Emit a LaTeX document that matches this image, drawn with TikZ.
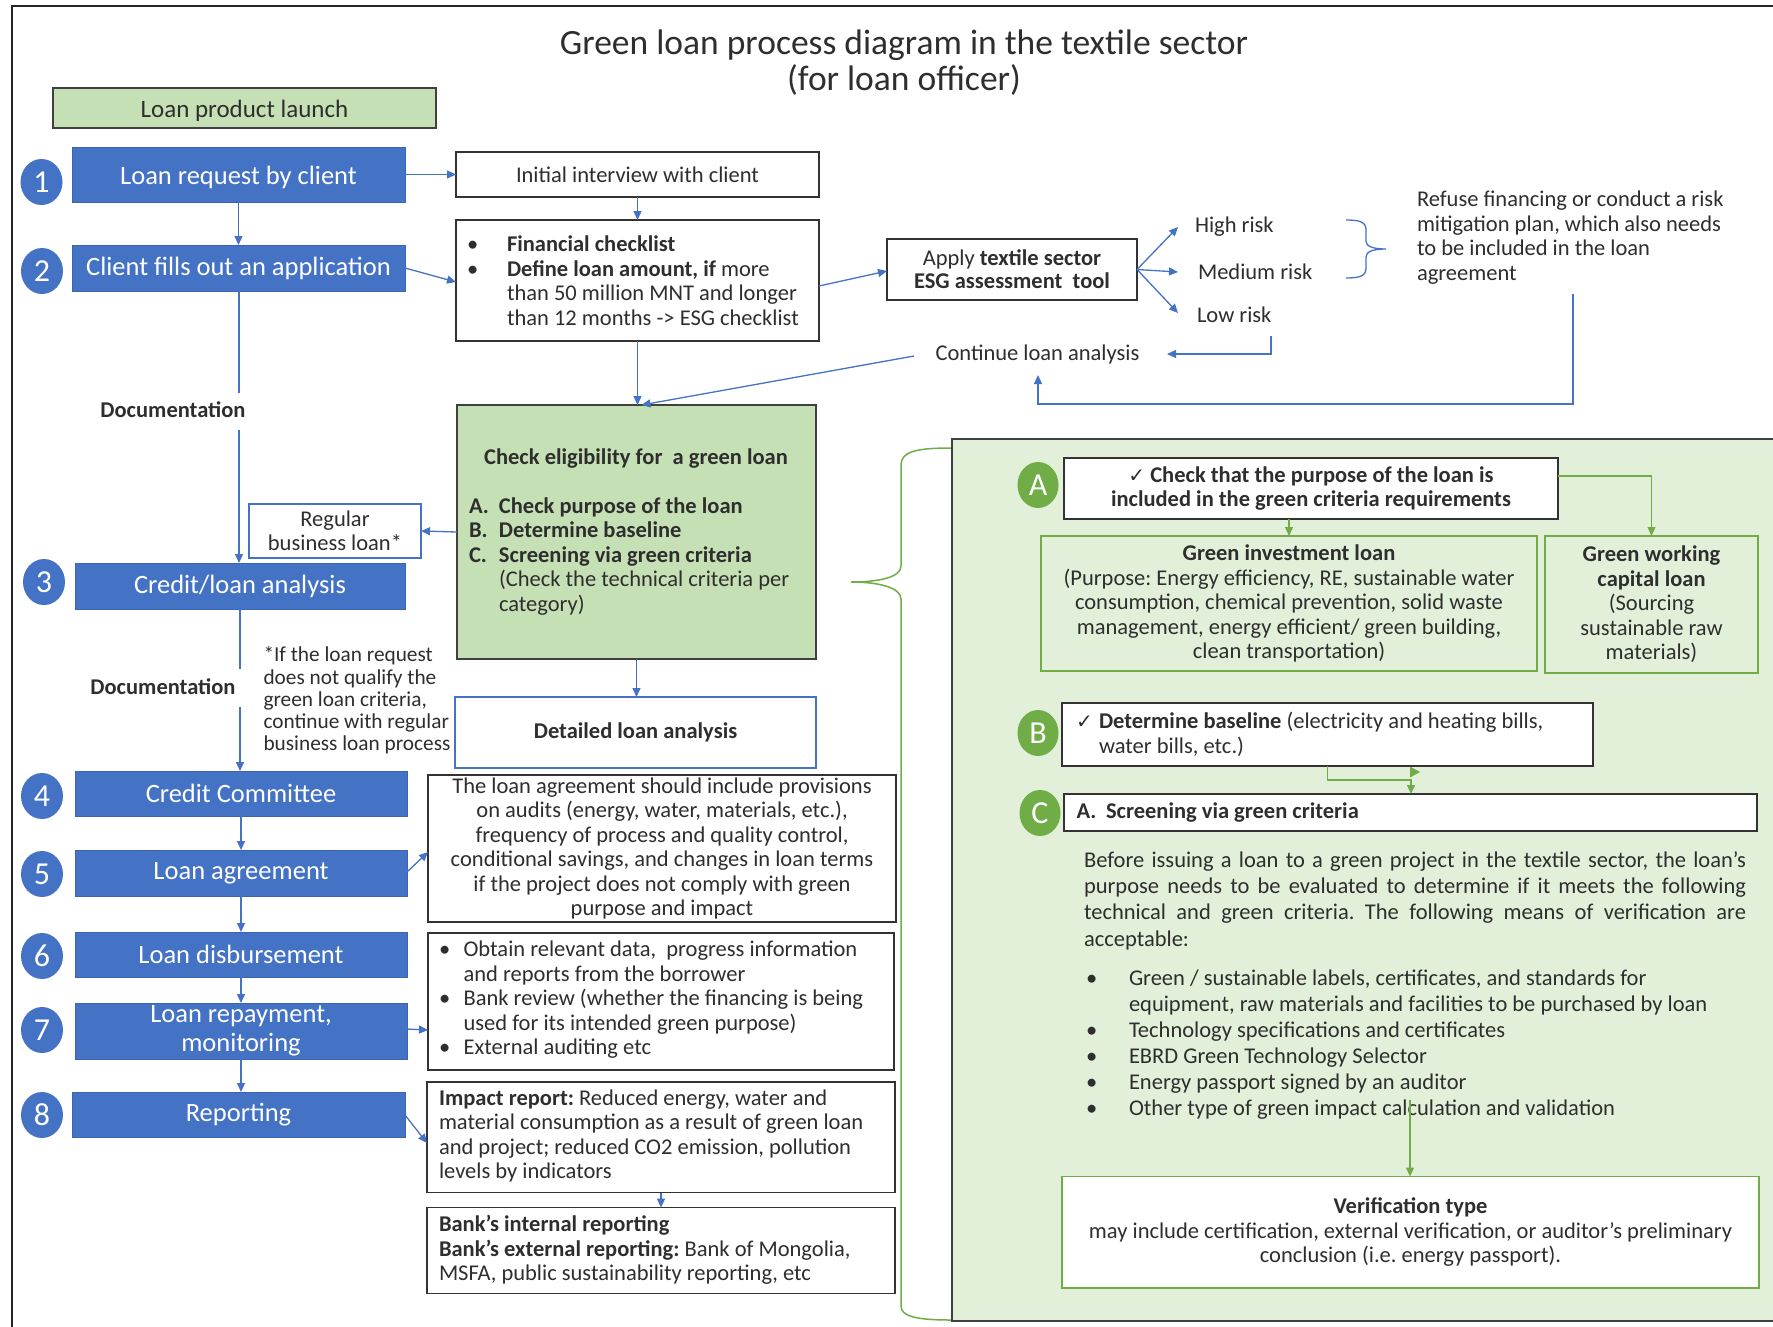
\documentclass[tikz,border=0pt]{standalone}
\usepackage{fontspec}
\setmainfont{Carlito}
\newfontfamily\dejavu{DejaVu Sans}
\usetikzlibrary{arrows.meta,shapes.geometric}
\definecolor{myblue}{HTML}{4472C4}
\definecolor{blueedge}{HTML}{3B65B3}
\definecolor{lgreen}{HTML}{C5E0B4}
\definecolor{pgreen}{HTML}{E2F0D9}
\definecolor{mgreen}{HTML}{70AD47}
\definecolor{txtc}{HTML}{2E2E2E}
\newcommand\myfs[2]{\fontsize{#1}{#2}\selectfont}
\newcommand\ck{{\dejavu\myfs{20}{22}\char"2713}}
\newcommand\bul[1]{\makebox[#1][l]{\hspace*{-5pt}\textbullet}}
\frenchspacing
\begin{document}
\begin{tikzpicture}[x=1pt,y=-1pt,
  every node/.style={inner sep=0pt, outer sep=0pt, text=txtc, font=\myfs{22.5}{24.5}},
  sz/.style 2 args={minimum width=#1pt, minimum height=#2pt},
  bf/.style={font=\myfs{22.5}{24.5}\bfseries},
  bluebox/.style={draw=blueedge, fill=myblue, line width=1pt, text=white, font=\myfs{26.5}{29}, align=center},
  numc/.style={ellipse, fill=myblue, minimum width=42pt, minimum height=46pt, text=white, font=\myfs{32}{32}},
  letc/.style={ellipse, fill=mgreen, minimum width=41pt, minimum height=46pt, text=white, font=\myfs{32}{32}},
  wbox/.style={draw=black!80, fill=white, line width=1.3pt},
  bbox/.style={draw=myblue, fill=white, line width=1.3pt},
  gbox/.style={draw=mgreen, line width=1.3pt},
  barrow/.style={draw=myblue, line width=1.3pt, -{Triangle[length=9pt,width=8pt]}},
  bline/.style={draw=myblue, line width=1.3pt},
  garrow/.style={draw=mgreen, line width=1.3pt, -{Triangle[length=9pt,width=8pt]}},
]
\useasboundingbox (0,0) rectangle (1773,1326);
\fill[white] (0,0) rectangle (1773,1326);
% outer frame
\draw[line width=1.6pt, black!85] (12,1340) -- (12,6) -- (1790,6);

% title
\node[font=\myfs{35.5}{38}] (title) at (904,45) {Green loan process diagram in the textile sector};
\node[font=\myfs{35.5}{38}] (subtitle) at (904,80) {(for loan officer)};

% launch
\node[draw=black!75, fill=lgreen, line width=1.3pt, sz={383}{40}, font=\myfs{25}{27}, text height=23pt, text depth=5pt] (launch) at (244.5,108) {Loan product launch};

% blue steps
\node[bluebox, sz={333}{55}, text height=25pt, text depth=5.5pt] (b1) at (238.5,174.5) {Loan request by client};
\node[bluebox, sz={333}{46}] (b2) at (238.5,268) {Client fills out an application};
\node[bluebox, sz={330}{46}] (b3) at (240,586) {Credit/loan analysis};
\node[bluebox, sz={332}{45}] (b4) at (241,793.5) {Credit Committee};
\node[bluebox, sz={332}{46}] (b5) at (241,873) {Loan agreement};
\node[bluebox, sz={332}{45}] (b6) at (241,954.5) {Loan disbursement};
\node[bluebox, sz={332}{56}] (b7) at (241,1031) {Loan repayment,\\monitoring};
\node[bluebox, sz={333}{45}] (b8) at (238.5,1114.5) {Reporting};

\node[numc] (n1) at (41.5,182) {1};
\node[numc] (n2) at (42,271) {2};
\node[numc] (n3) at (44,582) {3};
\node[numc] (n4) at (42,796) {4};
\node[numc] (n5) at (42,874) {5};
\node[numc] (n6) at (42,956) {6};
\node[numc] (n7) at (42,1030) {7};
\node[numc] (n8) at (42,1115) {8};

% spine
\draw[barrow] (b1.south) -- (b2.north);
\coordinate (d1a) at (239,393);
\coordinate (d1b) at (239,430);
\draw[bline] (b2.south -| d1a) -- (d1a);
\node[bf] (doc1) at (173,410) {Documentation};
\draw[barrow] (d1b) -- (d1b |- b3.north);
\coordinate (d2a) at (240,669);
\coordinate (d2b) at (240,707);
\draw[bline] (b3.south) -- (d2a);
\node[bf] (doc2) at (163,687) {Documentation};
\draw[barrow] (d2b) -- (d2b |- b4.north);
\draw[barrow] (b4.south) -- (b5.north);
\draw[barrow] (b5.south) -- (b6.north);
\draw[barrow] (b6.south) -- (b7.north);
\draw[barrow] (b7.south) -- (b7.south |- b8.north);

% initial interview and checklist
\node[wbox, sz={363}{45}] (init) at (637.5,174.5) {Initial interview with client};
\draw[barrow] (b1.east) -- (init.west);
\node[wbox, sz={363}{121}] (chk) at (637.5,280.5) {};
\node[anchor=west, align=left] (chkt) at (472,280.5) {\bul{35pt}\textbf{Financial checklist}\\
\bul{35pt}\textbf{Define loan amount, if} more\\
\hspace*{35pt}than 50 million MNT and longer\\
\hspace*{35pt}than 12 months -> ESG checklist};
\draw[barrow] (init.south) -- (chk.north);
\draw[barrow] (b2.east) -- ([yshift=-1.5pt]chk.west);

% ESG tool
\node[wbox, sz={250}{61}, align=center, font=\myfs{22.5}{23}] (esg) at (1012,269.5) {Apply \textbf{textile sector}\\\textbf{ESG assessment\ \ tool}};
\draw[barrow] ([yshift=-5.5pt]chk.east) -- ([yshift=-1.5pt]esg.west);
\node[anchor=west] (high) at (1195,227) {High risk};
\node[anchor=west] (med) at (1198,272) {Medium risk};
\node[anchor=west] (low) at (1197,315) {Low risk};
\draw[barrow] (esg.east) -- ([xshift=-17pt]high.west);
\draw[barrow] (esg.east) -- ([xshift=-20pt]med.west);
\draw[barrow] (esg.east) -- ([xshift=-19pt,yshift=2pt]low.west);
% brace
\draw[myblue, line width=1.3pt] (1346,220) .. controls (1360,220) and (1366,222) .. (1366,230) -- (1366,241) .. controls (1366,246) and (1372,249) .. (1386,249) .. controls (1372,249) and (1366,252) .. (1366,257) -- (1366,268) .. controls (1366,276) and (1360,278) .. (1346,278);
\node[anchor=west, align=left] (refuse) at (1417,237.5) {Refuse financing or conduct a risk\\mitigation plan, which also needs\\to be included in the loan\\agreement};

\node (cont) at (1037.5,354) {Continue loan analysis};
\coordinate (lowc) at (1271,336);
\coordinate (conte) at (1167,354);
\draw[barrow] (lowc) |- (conte);
\coordinate (rf) at (1573,294);
\coordinate (rfb) at (1038,404);
\coordinate (rfc) at (1038,375);
\draw[barrow] (rf) |- (rfb) -- (rfc);
\coordinate (contw) at (914,356);

% eligibility
\node[draw=black!75, fill=lgreen, line width=1.3pt, sz={359}{254}] (elig) at (636.5,532) {};
\node[bf] (eligt) at (636,459) {Check eligibility for\ \ a green loan};
\node[anchor=west, align=left] (eligl) at (469,556.5) {\makebox[30pt][l]{\textbf{A.}}\textbf{Check purpose of the loan}\\
\makebox[30pt][l]{\textbf{B.}}\textbf{Determine baseline}\\
\makebox[30pt][l]{\textbf{C.}}\textbf{Screening via green criteria}\\
\hspace*{30pt}(Check the technical criteria per\\
\hspace*{30pt}category)};
\draw[barrow] (chk.south) -- (chk.south |- elig.north);
\draw[barrow] (contw) -- ([xshift=5pt]elig.north);

\node[bbox, sz={172}{54}, align=center] (reg) at (335,531) {Regular\\business loan*};
\draw[barrow] (elig.west) -- (reg.east);
\node[anchor=west, align=left, font=\myfs{21.3}{22.3}] (foot) at (263.5,700.5) {*If the loan request\\does not qualify the\\green loan criteria,\\continue with regular\\business loan process};

\node[bbox, sz={361}{71}, bf] (det) at (635.5,732.5) {Detailed loan analysis};
\draw[barrow] (elig.south) -- (elig.south |- det.north);

% lower right boxes
\node[wbox, sz={468}{147}, align=center] (prov) at (662,848.5) {The loan agreement should include provisions\\on audits (energy, water, materials, etc.),\\frequency of process and quality control,\\conditional savings, and changes in loan terms\\if the project does not comply with green\\purpose and impact};
\draw[barrow] ([yshift=1pt]b5.east) -- ([yshift=-3.5pt]prov.west);

\node[wbox, sz={466}{137}] (mon) at (661,1001.5) {};
\node[anchor=west, align=left] (mont) at (444,1000) {\bul{19.6pt}Obtain relevant data,\ \ progress information\\
\hspace*{19.6pt}and reports from the borrower\\
\bul{19.6pt}Bank review (whether the financing is being\\
\hspace*{19.6pt}used for its intended green purpose)\\
\bul{19.6pt}External auditing etc};
\draw[barrow] ([yshift=2pt]b7.east) -- ([yshift=-28.5pt]mon.west);

\node[wbox, sz={468}{110.5}] (imp) at (661,1137.25) {};
\node[anchor=west, align=left] (impt) at (439,1136) {\textbf{Impact report:} Reduced energy, water and\\material consumption as a result of green loan\\and project; reduced CO2 emission, pollution\\levels by indicators};
\draw[barrow] ([yshift=-0.5pt]b8.east) -- ([yshift=-5.75pt]imp.west);

\node[wbox, sz={468}{86}] (bank) at (661,1250.6) {};
\node[anchor=west, align=left] (bankt) at (439,1250) {\textbf{Bank's internal reporting}\\\textbf{Bank's external reporting:} Bank of Mongolia,\\MSFA, public sustainability reporting, etc};
\draw[barrow] (imp.south) -- (bank.north);

% green brace
\draw[mgreen, line width=1.5pt] (951,448) .. controls (915,448) and (901,452) .. (901,465) -- (901,566) .. controls (901,577) and (880,582) .. (851,582) .. controls (880,582) and (901,588) .. (901,599) -- (901,1306) .. controls (901,1316) and (915,1320) .. (951,1320);

% right panel
\draw[draw=black!75, fill=pgreen, line width=1.3pt] (952,439) rectangle (1800,1321);

\node[letc] (cA) at (1038,485) {A};
\node[wbox, sz={494}{61}, align=center, bf] (bA) at (1311,488.5) {\ck\ Check that the purpose of the loan is\\included in the green criteria requirements};
\node[gbox, sz={496}{135}, align=center] (gi) at (1289,603.5) {\textbf{Green investment loan}\\(Purpose: Energy efficiency, RE, sustainable water\\consumption, chemical prevention, solid waste\\management, energy efficient/ green building,\\clean transportation)};
\draw[garrow] (gi.north |- bA.south) -- (gi.north);
\node[gbox, sz={213}{137}, align=center] (gw) at (1651.5,604.5) {\textbf{Green working}\\\textbf{capital loan}\\(Sourcing\\sustainable raw\\materials)};
\draw[garrow] ([yshift=12.5pt]bA.east) -| (gw.north);

\node[letc] (cB) at (1038,733) {B};
\node[wbox, sz={531}{63}] (bB) at (1327.5,734.5) {};
\node[anchor=west, align=left] (bBt) at (1076,734.5) {\makebox[23pt][l]{\ck}\textbf{Determine baseline} (electricity and heating bills,\\\hspace*{23pt}water bills, etc.)};

\node[letc] (cC) at (1040,813) {C};
\node[wbox, sz={693}{37}] (bC) at (1410.5,812.5) {};
\node[anchor=west, bf] (bCt) at (1076.5,812.5) {\makebox[29.5pt][l]{A.}Screening via green criteria};
\coordinate (bcm) at (1411,780);
\draw[garrow] (bB.south) |- (bcm) -- (bcm |- bC.north);
\fill[mgreen] (1410,766.5) -- (1420,772) -- (1410,777.5) -- cycle;

\node[text width=662pt, align=justify, font=\myfs{22.5}{26.4}] (para) at (1415,900.5) {\hyphenpenalty=10000\exhyphenpenalty=10000 Before issuing a loan to a green project in the textile sector, the loan's\linebreak purpose needs to be evaluated to determine if it meets the following\linebreak technical and green criteria. The following means of verification are\linebreak acceptable:};

\node[anchor=west, align=left, font=\myfs{22.5}{26}] (bull) at (1086,1045) {\makebox[43pt][l]{\textbullet}Green / sustainable labels, certificates, and standards for\\
\hspace*{43pt}equipment, raw materials and facilities to be purchased by loan\\
\makebox[43pt][l]{\textbullet}Technology specifications and certificates\\
\makebox[43pt][l]{\textbullet}EBRD Green Technology Selector\\
\makebox[43pt][l]{\textbullet}Energy passport signed by an auditor\\
\makebox[43pt][l]{\textbullet}Other type of green impact calculation and validation};

\node[draw=mgreen, fill=white, line width=1.3pt, sz={697}{111.5}, align=center] (ver) at (1410.5,1232.25) {\textbf{Verification type}\\may include certification, external verification, or auditor's preliminary\\conclusion (i.e. energy passport).};
\coordinate (vs) at (1410,1100);
\draw[garrow] (vs) -- (vs |- ver.north);
\end{tikzpicture}
\end{document}
